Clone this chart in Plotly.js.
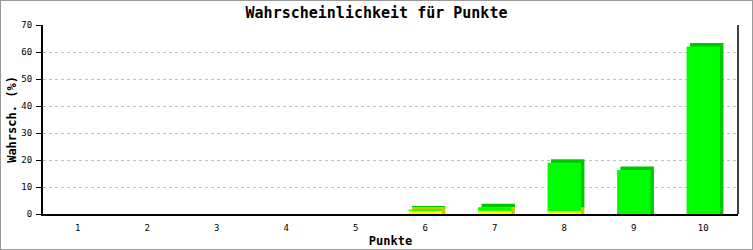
<!DOCTYPE html>
<html>
<head>
<meta charset="utf-8">
<script src="https://cdn.plot.ly/plotly-3.0.1.min.js"></script>
<style>html,body{margin:0;padding:0;background:#fff;}#chart{width:753px;height:250px;}</style>
</head>
<body>
<div id="chart"></div>
<script>
var categories = ['1','2','3','4','5','6','7','8','9','10'];
var yellowValues = [0,0,0,0,0,1.2,1.2,1.1,0,0];
var greenValues  = [0,0,0,0,0,0.5,1.3,17.9,16.3,62.0];
var yTickVals = [0,10,20,30,40,50,60,70];

var W = 0.48, DX = 0.05, DY = 1.3;
var mono = 'DejaVu Sans Mono, Liberation Mono, monospace';

// depth (back) faces
var yBackBase = [], yBackH = [], gBackBase = [], gBackH = [];
for (var i = 0; i < categories.length; i++) {
  var yv = yellowValues[i], gv = greenValues[i];
  if (yv > 0) { yBackBase.push(0); yBackH.push(yv + DY); } else { yBackBase.push(0); yBackH.push(null); }
  if (gv > 0) {
    var b = yv > 0 ? yv + DY : 0;
    gBackBase.push(b); gBackH.push(yv + gv + DY - b);
  } else { gBackBase.push(0); gBackH.push(null); }
}

var common = {type:'bar', x:categories, width:W, hoverinfo:'skip', marker:{line:{width:0}}};
function tr(o){ var t = JSON.parse(JSON.stringify(common)); for (var k in o) t[k]=o[k]; return t; }

var traces = [
  tr({y:yBackH, base:yBackBase, offset:-W/2+DX, marker:{color:'#c8c800', line:{width:0}}}),
  tr({y:gBackH, base:gBackBase, offset:-W/2+DX, marker:{color:'#00c800', line:{width:0}}}),
  tr({y:yellowValues.map(function(v){return v>0?v:null;}), base:0, offset:-W/2, marker:{color:'#ffff00', line:{width:0}}}),
  tr({y:greenValues.map(function(v){return v>0?v:null;}), base:yellowValues, offset:-W/2, marker:{color:'#00ff00', line:{width:0}}})
];

var layout = {
  width:753, height:250,
  margin:{l:43, r:15, t:25, b:36, pad:0},
  paper_bgcolor:'#fff', plot_bgcolor:'#fff',
  barmode:'overlay',
  showlegend:false,
  title:{text:'Wahrscheinlichkeit für Punkte', x:0.5, xanchor:'center', y:1-13/250, yref:'container', yanchor:'middle',
         font:{family:mono, size:15, color:'#000', weight:700}},
  xaxis:{type:'category', range:[-0.5,9.5], showgrid:false, zeroline:false, showline:true, linecolor:'#000', linewidth:2,
         ticks:'', tickfont:{family:mono, size:9, color:'#000'}, ticklabelstandoff:4,
         title:{text:'Punkte', font:{family:mono, size:12, color:'#000', weight:700}, standoff:5}},
  yaxis:{range:[0,70], tickvals:yTickVals, ticktext:yTickVals.map(String), showgrid:true, gridcolor:'#c0c0c0', griddash:'dot', gridwidth:1,
         zeroline:false, showline:true, linecolor:'#000', linewidth:2, ticks:'outside', ticklen:5, tickcolor:'#000', tickwidth:1,
         tickfont:{family:mono, size:9, color:'#000'}, ticklabelstandoff:2,
         title:{text:'Wahrsch. (%)', font:{family:mono, size:12, color:'#000', weight:700}, standoff:2}},
  shapes:[
    {type:'line', xref:'paper', yref:'paper', x0:1, x1:1, y0:0, y1:1, line:{color:'#000', width:1.5}},
    {type:'rect', xref:'paper', yref:'paper', x0:-43/695, x1:1+15/695, y0:-36/189, y1:1+25/189, line:{color:'#999', width:2}, fillcolor:'rgba(0,0,0,0)', layer:'above'}
  ]
};

Plotly.newPlot('chart', traces, layout, {staticPlot:true, displayModeBar:false});
</script>
</body>
</html>
